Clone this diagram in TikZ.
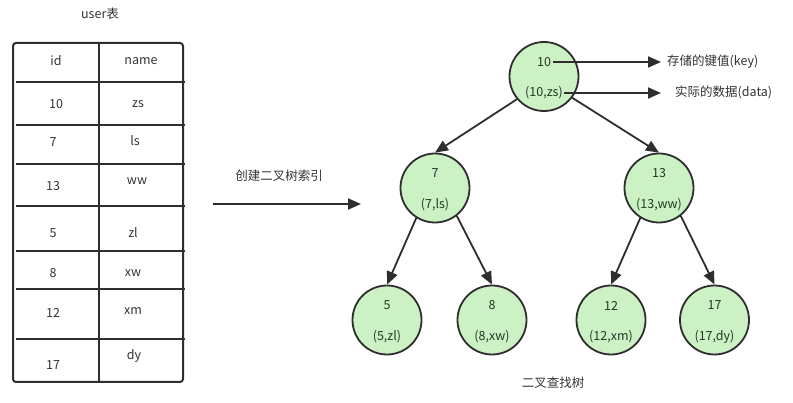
\documentclass[tikz,border=0pt]{standalone}
\usepackage{fontspec}
\setmainfont{Noto Sans CJK SC}
\usetikzlibrary{arrows.meta}
\definecolor{ink}{HTML}{2E2E2E}
\definecolor{txt}{HTML}{333333}
\definecolor{ntxt}{HTML}{243824}
\definecolor{leaf}{RGB}{204,241,197}
\tikzset{
  tnode/.style={circle, draw=ink, line width=1.8pt, fill=leaf, minimum size=69pt, inner sep=0pt},
  lbl/.style={text=txt, font=\fontsize{12.5}{14}\selectfont, inner sep=0pt},
  nlbl/.style={lbl, text=ntxt},
  edge/.style={draw=ink, line width=1.8pt, -{Triangle[length=13pt,width=11pt]}},
  grid/.style={draw=ink, line width=2pt},
}
\begin{document}
\begin{tikzpicture}[x=1pt,y=-1pt]
\useasboundingbox (0,0) rectangle (793,403);
% title
\node[lbl] (ttl) at (100,14) {user表};
% table
\draw[grid, rounded corners=3pt] (13,43) rectangle (183,382);
\draw[grid] (99,43) -- (99,382);
\foreach \yy in {82,125,164,206,251,289,339}{
  \draw[grid] (16,\yy) -- (185,\yy);
}
\node[lbl] (h1) at (56,61) {id};
\node[lbl] (h2) at (141,61) {name};
\node[lbl] (r1a) at (56,104) {10};
\node[lbl] (r1b) at (138,104) {zs};
\node[lbl] (r2a) at (53,142) {7};
\node[lbl] (r2b) at (135,141) {ls};
\node[lbl] (r3a) at (53,186) {13};
\node[lbl] (r3b) at (137,181) {ww};
\node[lbl] (r4a) at (53,233) {5};
\node[lbl] (r4b) at (133,233) {zl};
\node[lbl] (r5a) at (53,273) {8};
\node[lbl] (r5b) at (133,273) {xw};
\node[lbl] (r6a) at (53,313) {12};
\node[lbl] (r6b) at (133,311) {xm};
\node[lbl] (r7a) at (53,365) {17};
\node[lbl] (r7b) at (134,356) {dy};
% big arrow
\node[lbl] (mk) at (279,176) {创建二叉树索引};
\coordinate (bs) at (213,204);
\coordinate (be) at (361,204);
\draw[edge] (bs) -- (be);
% tree nodes
\node[tnode] (n10) at (544,76.5) {};
\node[tnode] (n7) at (435,188) {};
\node[tnode] (n13) at (659,188) {};
\node[tnode] (n5) at (387,320) {};
\node[tnode] (n8) at (492,320) {};
\node[tnode] (n12) at (611,320) {};
\node[tnode] (n17) at (714.5,320) {};
\foreach \n/\k/\v in {n10/10/{(10,zs)}, n7/7/{(7,ls)}, n13/13/{(13,ww)}, n5/5/{(5,zl)}, n8/8/{(8,xw)}, n12/12/{(12,xm)}, n17/17/{(17,dy)}}{
  \node[nlbl] (\n k) at ([yshift=14.5pt]\n.center) {\k};
  \node[nlbl] (\n v) at ([yshift=-16.5pt]\n.center) {\v};
}
% edges
\draw[edge] (n10.220) -- (n7.north);
\draw[edge] (n10.-37) -- (n13.north);
\draw[edge] (n7.238) -- (n5.north);
\draw[edge] (n7.-52) -- (n8.north);
\draw[edge] (n13.238) -- (n12.north);
\draw[edge] (n13.-52) -- (n17.north);
% annotations
\coordinate (ka) at (661,62);
\coordinate (da) at (661,93);
\draw[edge] ([xshift=2pt]n10k.east) -- (ka);
\draw[edge] ([xshift=1pt]n10v.east) -- (da);
\node[lbl, anchor=west] (kl) at (667,62) {存储的键值(key)};
\node[lbl, anchor=west] (dl) at (675,92) {实际的数据(data)};
\node[lbl] (cap) at (553,383) {二叉查找树};
\end{tikzpicture}
\end{document}
